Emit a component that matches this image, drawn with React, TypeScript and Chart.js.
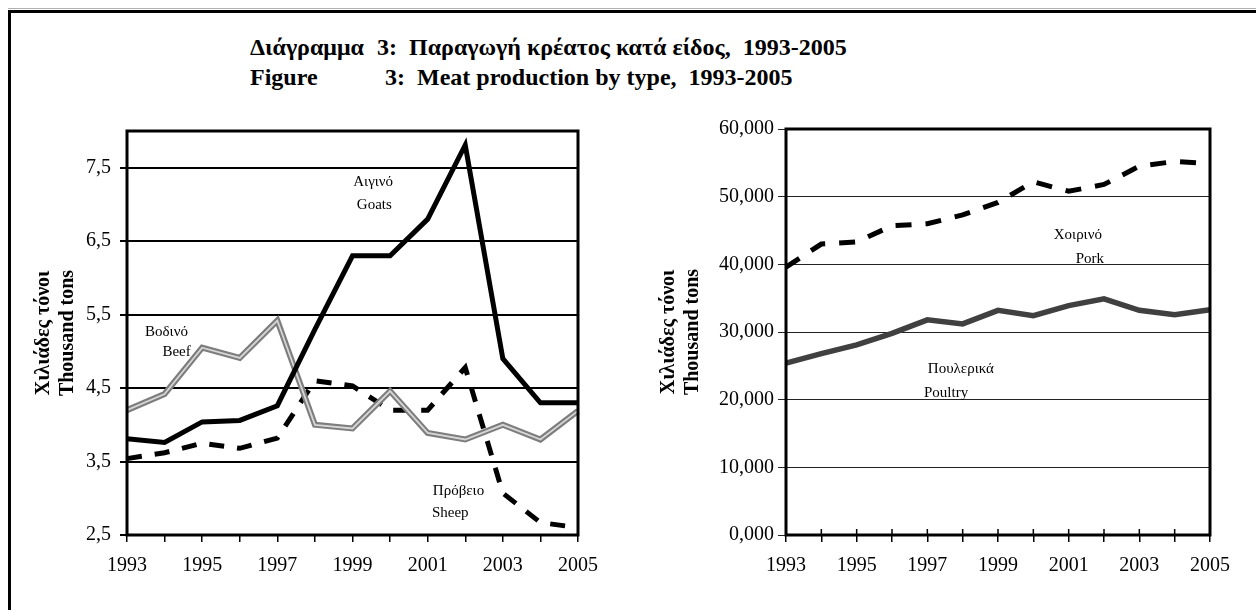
import React, { useEffect, useRef } from 'react';
import { Chart, registerables } from 'chart.js';

Chart.register(...registerables);

// ---- data ----
const years = ['1993', '1994', '1995', '1996', '1997', '1998', '1999', '2000', '2001', '2002', '2003', '2004', '2005'];
const goats = [3.81, 3.76, 4.04, 4.06, 4.26, 5.3, 6.3, 6.3, 6.8, 7.81, 4.9, 4.3, 4.3];
const beef = [4.2, 4.42, 5.05, 4.91, 5.42, 4.0, 3.95, 4.46, 3.89, 3.8, 4.0, 3.8, 4.19];
const sheep = [3.54, 3.62, 3.75, 3.68, 3.82, 4.6, 4.53, 4.2, 4.2, 4.78, 3.07, 2.67, 2.6];
const pork = [39600, 43000, 43300, 45700, 46000, 47300, 49150, 52200, 50800, 51800, 54500, 55200, 54900];
const poultry = [25400, 26800, 28100, 29800, 31800, 31200, 33200, 32400, 33900, 34900, 33200, 32550, 33300];

const leftTicks = [2.5, 3.5, 4.5, 5.5, 6.5, 7.5];
const leftTickLabels = ['2,5', '3,5', '4,5', '5,5', '6,5', '7,5'];
const rightTicks = [0, 10000, 20000, 30000, 40000, 50000, 60000];
const rightTickLabels = ['0,000', '10,000', '20,000', '30,000', '40,000', '50,000', '60,000'];

const titleLine1a = 'Διάγραμμα';
const titleLine1b = '3:  Παραγωγή κρέατος κατά είδος,  1993-2005';
const titleLine2a = 'Figure';
const titleLine2b = '3:  Meat production by type,  1993-2005';
const yTitle = ['Χιλιάδες τόνοι', 'Thousand tons'];

// in-plot labels: [text, category index, value]
const leftNotes: [string, number, number][] = [
  ['Αιγινό', 6.55, 7.3],
  ['Goats', 6.58, 6.99],
  ['Βοδινό', 1.05, 5.26],
  ['Beef', 1.32, 4.99],
  ['Πρόβειο', 8.82, 3.1],
  ['Sheep', 8.6, 2.8],
];
const rightNotes: [string, number, number][] = [
  ['Χοιρινό', 8.26, 44260],
  ['Pork', 8.6, 40840],
  ['Πουλερικά', 4.95, 24500],
  ['Poultry', 4.53, 20940],
];

const SERIF = "'Liberation Serif', 'Times New Roman', serif";

const boxPlugin = {
  id: 'boxPlugin',
  afterDraw(chart: any, _args: any, opts: any) {
    const { ctx, chartArea } = chart;
    ctx.save();
    ctx.strokeStyle = '#000';
    ctx.lineWidth = 3;
    ctx.strokeRect(chartArea.left, chartArea.top, chartArea.right - chartArea.left, chartArea.bottom - chartArea.top);
    if (opts && opts.innerTicks) {
      const xs = chart.scales.x;
      ctx.lineWidth = 1.5;
      ctx.beginPath();
      for (let i = 0; i < years.length; i++) {
        const px = xs.getPixelForValue(i);
        ctx.moveTo(px, chartArea.bottom - 6);
        ctx.lineTo(px, chartArea.bottom);
      }
      ctx.stroke();
    }
    const notes: [string, number, number][] = (opts && opts.notes) || [];
    ctx.fillStyle = '#000';
    ctx.font = `15px ${SERIF}`;
    ctx.textAlign = 'center';
    ctx.textBaseline = 'middle';
    for (const [t, xi, yv] of notes) {
      ctx.fillText(t, chart.scales.x.getPixelForValue(xi), chart.scales.y.getPixelForValue(yv));
    }
    ctx.restore();
  },
};

function xScale() {
  return {
    type: 'category' as const,
    offset: false,
    grid: { drawOnChartArea: false, drawTicks: true, tickLength: 7, color: '#000', lineWidth: 1.5 },
    border: { display: false },
    ticks: {
      autoSkip: false,
      maxRotation: 0,
      minRotation: 0,
      padding: 12,
      color: '#000',
      font: { family: SERIF, size: 20 },
      callback: (_v: any, i: number) => (i % 2 === 0 ? years[i] : ''),
    },
    afterFit: (s: any) => {
      s.height = 50;
    },
  };
}

export default function App() {
  const leftRef = useRef<HTMLCanvasElement>(null);
  const rightRef = useRef<HTMLCanvasElement>(null);

  useEffect(() => {
    const left = new Chart(leftRef.current!, {
      type: 'line',
      data: {
        labels: years,
        datasets: [
          { data: goats, borderColor: '#000', borderWidth: 5, pointRadius: 0, tension: 0, order: 0 },
          { data: beef, borderColor: '#d6d6d6', borderWidth: 1.8, pointRadius: 0, tension: 0, order: 1 },
          { data: beef, borderColor: '#7d7d7d', borderWidth: 6, pointRadius: 0, tension: 0, order: 2 },
          { data: sheep, borderColor: '#000', borderWidth: 5, borderDash: [15, 13], pointRadius: 0, tension: 0, order: 3 },
        ],
      },
      options: {
        animation: false,
        responsive: false,
        maintainAspectRatio: false,
        layout: { padding: { top: 15, right: 27, bottom: 0, left: 0 } },
        plugins: {
          legend: { display: false },
          tooltip: { enabled: false },
          boxPlugin: { notes: leftNotes, innerTicks: false },
        } as any,
        scales: {
          x: xScale() as any,
          y: {
            type: 'linear',
            min: 2.5,
            max: 8,
            afterBuildTicks: (s: any) => {
              s.ticks = leftTicks.map((v) => ({ value: v }));
            },
            grid: { color: '#000', lineWidth: 2, tickLength: 7, drawTicks: true },
            border: { display: false },
            ticks: {
              padding: 9,
              color: '#000',
              font: { family: SERIF, size: 20 },
              callback: (v: any) => leftTickLabels[leftTicks.indexOf(Number(v))] ?? '',
            },
            title: {
              display: true,
              text: yTitle,
              color: '#000',
              font: { family: SERIF, size: 20, weight: 'bold' },
              padding: { top: 22, bottom: 0 },
            },
            afterFit: (s: any) => {
              s.width = 117;
            },
          } as any,
        },
      },
      plugins: [boxPlugin],
    });

    const right = new Chart(rightRef.current!, {
      type: 'line',
      data: {
        labels: years,
        datasets: [
          { data: pork, borderColor: '#000', borderWidth: 5, borderDash: [16, 14], pointRadius: 0, tension: 0 },
          { data: poultry, borderColor: '#404040', borderWidth: 5.5, pointRadius: 0, tension: 0 },
        ],
      },
      options: {
        animation: false,
        responsive: false,
        maintainAspectRatio: false,
        layout: { padding: { top: 19, right: 46, bottom: 0, left: 0 } },
        plugins: {
          legend: { display: false },
          tooltip: { enabled: false },
          boxPlugin: { notes: rightNotes, innerTicks: true },
        } as any,
        scales: {
          x: xScale() as any,
          y: {
            type: 'linear',
            min: 0,
            max: 60000,
            afterBuildTicks: (s: any) => {
              s.ticks = rightTicks.map((v) => ({ value: v }));
            },
            grid: { color: '#222', lineWidth: 1, tickLength: 8, drawTicks: true },
            border: { display: false },
            ticks: {
              padding: 4,
              color: '#000',
              font: { family: SERIF, size: 20 },
              callback: (v: any) => rightTickLabels[rightTicks.indexOf(Number(v))] ?? '',
            },
            title: {
              display: true,
              text: yTitle,
              color: '#000',
              font: { family: SERIF, size: 20, weight: 'bold' },
              padding: { top: 17, bottom: 0 },
            },
            afterFit: (s: any) => {
              s.width = 146;
            },
          } as any,
        },
      },
      plugins: [boxPlugin],
    });

    return () => {
      left.destroy();
      right.destroy();
    };
  }, []);

  const titleStyle: React.CSSProperties = {
    position: 'absolute',
    fontFamily: SERIF,
    fontWeight: 'bold',
    fontSize: 24,
    lineHeight: '26px',
    whiteSpace: 'pre',
    color: '#000',
  };

  return (
    <div
      style={{
        position: 'fixed',
        left: 0,
        top: 0,
        width: 1256,
        height: 610,
        background: '#fff',
        overflow: 'hidden',
      }}
    >
      <div style={{ position: 'absolute', left: 8, top: 8, width: 1248, height: 1, background: '#b0b0b0' }} />
      <div
        style={{
          position: 'absolute',
          left: 8,
          top: 10,
          width: 1260,
          height: 610,
          borderTop: '3px solid #000',
          borderLeft: '3px solid #000',
        }}
      />
      <div style={{ ...titleStyle, left: 250, top: 34 }}>{titleLine1a}</div>
      <div style={{ ...titleStyle, left: 377, top: 34 }}>{titleLine1b}</div>
      <div style={{ ...titleStyle, left: 250, top: 64 }}>{titleLine2a}</div>
      <div style={{ ...titleStyle, left: 385, top: 64 }}>{titleLine2b}</div>
      <canvas
        ref={leftRef}
        width={600}
        height={475}
        style={{ position: 'absolute', left: 10, top: 110, width: 600, height: 475 }}
      />
      <canvas
        ref={rightRef}
        width={616}
        height={475}
        style={{ position: 'absolute', left: 640, top: 110, width: 616, height: 475 }}
      />
    </div>
  );
}
